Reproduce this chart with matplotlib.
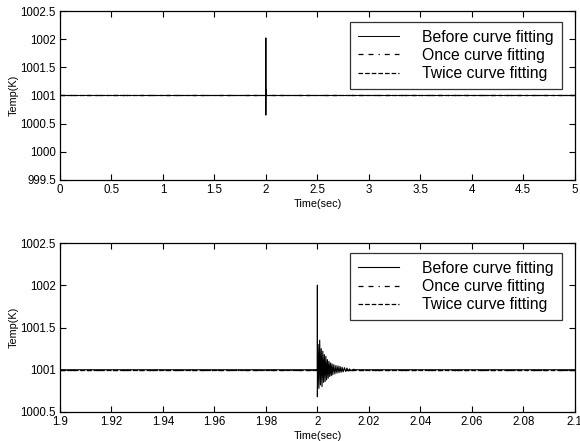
import numpy as np
import matplotlib
matplotlib.use("Agg")
import matplotlib.pyplot as plt

plt.rcParams['font.family'] = ['Liberation Sans', 'DejaVu Sans']

# full run, 0..5 s
t_full = [0.0, 0.0, 0.002, 0.004, 0.01, 2.0, 2.0, 2.0, 2.0005, 2.001, 5.0]
temp_before_full = [1001.0, 1001.17, 1000.76, 1001.0, 1001.0, 1001.0,
                    1002.02, 1000.65, 1001.1, 1001.0, 1001.0]
t_fit_full = [0.0, 5.0]
temp_once_full = [1001.0, 1001.0]
temp_twice_full = [1001.0, 1001.0]

# close-up around the disturbance at t = 2 s
t_zoom = [1.9, 2.0, 2.0, 2.0,
          2.0003, 2.0006, 2.0009, 2.0012, 2.0015, 2.0018, 2.0021, 2.0024,
          2.0027, 2.0030, 2.0033, 2.0036, 2.0039, 2.0042, 2.0045, 2.0048,
          2.0051, 2.0054, 2.0057, 2.0060,
          2.0064, 2.0068, 2.0072, 2.0076, 2.0080, 2.0084, 2.0088, 2.0092,
          2.0096, 2.0100,
          2.0105, 2.0110, 2.0115, 2.0120, 2.0125, 2.0130,
          2.0140, 2.0150, 2.1]
temp_before_zoom = [1001.0, 1001.0, 1002.0, 1000.68,
                    1001.30, 1000.78, 1001.35, 1000.82, 1001.25, 1000.80,
                    1001.22, 1000.85, 1001.18, 1000.86, 1001.16, 1000.88,
                    1001.12, 1000.90, 1001.10, 1000.92, 1001.08, 1000.93,
                    1001.07, 1000.94,
                    1001.06, 1000.95, 1001.05, 1000.96, 1001.045, 1000.965,
                    1001.04, 1000.97, 1001.03, 1000.975,
                    1001.025, 1000.98, 1001.02, 1000.985, 1001.01, 1000.99,
                    1001.005, 1001.0, 1001.0]
t_fit_zoom = [1.9, 2.1]
temp_once_zoom = [1001.0, 1001.0]
temp_twice_zoom = [1001.0, 1001.0]

xticks_full = [0, 0.5, 1, 1.5, 2, 2.5, 3, 3.5, 4, 4.5, 5]
xlabels_full = ['0', '0.5', '1', '1.5', '2', '2.5', '3', '3.5', '4', '4.5', '5']
yticks_full = [999.5, 1000, 1000.5, 1001, 1001.5, 1002, 1002.5]
ylabels_full = ['999.5', '1000', '1000.5', '1001', '1001.5', '1002', '1002.5']

xticks_zoom = [1.9, 1.92, 1.94, 1.96, 1.98, 2.0, 2.02, 2.04, 2.06, 2.08, 2.1]
xlabels_zoom = ['1.9', '1.92', '1.94', '1.96', '1.98', '2', '2.02', '2.04',
                '2.06', '2.08', '2.1']
yticks_zoom = [1000.5, 1001, 1001.5, 1002, 1002.5]
ylabels_zoom = ['1000.5', '1001', '1001.5', '1002', '1002.5']

legend_names = ['Before curve fitting', 'Once curve fitting',
                'Twice curve fitting']

fig = plt.figure(figsize=(5.8, 4.41), dpi=100)
ax1 = fig.add_axes([0.1034, 0.592, 0.8876, 0.383])
ax2 = fig.add_axes([0.1034, 0.0658, 0.8876, 0.383])

once_style = (0, (4, 4, 4, 4, 1, 4))


def setup(ax, xt, xl, yt, yl, xlim, ylim):
    ax.set_xlim(*xlim)
    ax.set_ylim(*ylim)
    ax.set_xticks(xt)
    ax.set_xticklabels(xl)
    ax.set_yticks(yt)
    ax.set_yticklabels(yl)
    ax.tick_params(direction='in', length=4, width=0.8, labelsize=8.3,
                   top=True, right=True, pad=3)
    for s in ax.spines.values():
        s.set_linewidth(0.9)
    ax.set_xlabel('Time(sec)', fontsize=7.8, labelpad=2)
    ax.set_ylabel('Temp(K)', fontsize=7.8, labelpad=1)


# top: whole run
ax1.plot(t_full, temp_before_full, color='black', lw=0.7, label=legend_names[0])
ax1.plot(t_fit_full, temp_once_full, color='black', lw=0.9,
         linestyle=once_style, label=legend_names[1])
ax1.plot(t_fit_full, temp_twice_full, color='black', lw=0.9,
         linestyle='--', label=legend_names[2])
setup(ax1, xticks_full, xlabels_full, yticks_full, ylabels_full,
      (0, 5), (999.5, 1002.5))

# bottom: close-up
ax2.plot(t_zoom, temp_before_zoom, color='black', lw=0.8, label=legend_names[0])
ax2.plot(t_fit_zoom, temp_once_zoom, color='black', lw=0.9,
         linestyle=once_style, label=legend_names[1])
ax2.plot(t_fit_zoom, temp_twice_zoom, color='black', lw=0.9,
         linestyle='--', label=legend_names[2])
setup(ax2, xticks_zoom, xlabels_zoom, yticks_zoom, ylabels_zoom,
      (1.9, 2.1), (1000.5, 1002.5))

for ax, anchor in ((ax1, (0.975, 0.935)), (ax2, (0.975, 0.941))):
    leg = ax.legend(loc='upper right', bbox_to_anchor=anchor, fontsize=11.3,
                    frameon=True, fancybox=False, borderpad=0.5,
                    handlelength=2.6, handletextpad=1.5, labelspacing=0.2,
                    borderaxespad=0)
    leg.get_frame().set_edgecolor('black')
    leg.get_frame().set_linewidth(0.9)

fig.savefig('out.png', dpi=100)
